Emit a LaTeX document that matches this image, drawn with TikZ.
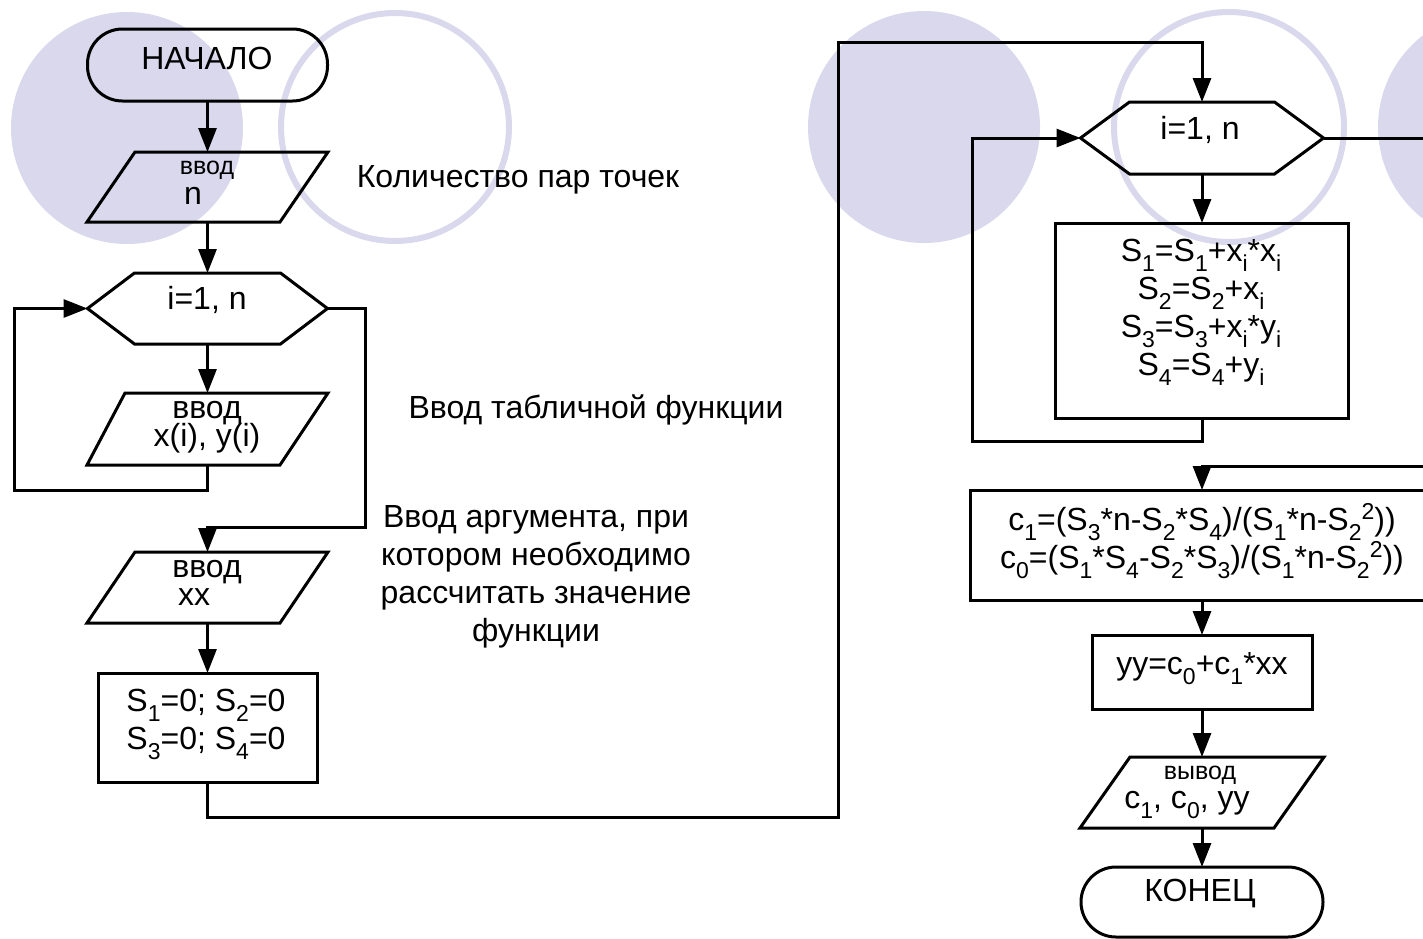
\documentclass[tikz,border=0pt]{standalone}
\usepackage{fontspec}
\setmainfont{Liberation Sans}
\usetikzlibrary{arrows.meta,calc}
\definecolor{lav}{RGB}{217,216,236}
% lowered / raised indices for the formulas
\newcommand{\sbs}[1]{\raisebox{-10pt}{\fontsize{23}{23}\selectfont #1}}
\newcommand{\sps}[1]{\raisebox{11pt}{\fontsize{23}{23}\selectfont #1}}
\newcommand{\tagfont}{\fontsize{25}{25}\selectfont}
\begin{document}
\begin{tikzpicture}[x=1pt,y=-1pt,
  font=\fontsize{32}{38}\selectfont,
  link/.style={line width=3pt},
  flow/.style={line width=3pt,-{Triangle[width=18pt,length=24pt]}},
  proc/.style={draw,line width=3pt,inner sep=0pt,outer sep=0pt},
  term/.style={proc,rounded corners=35pt},
  area/.style={inner sep=0pt,outer sep=0pt},
  lbl/.style={inner sep=0pt,align=center},
  deco/.style={lav,line width=6pt}]
\useasboundingbox (0,0) rectangle (1423,938);
\clip (0,0) rectangle (1423,938);

% background discs and rings
\fill[lav] (127,128) circle[radius=116];
\draw[deco] (395,127) circle[radius=114];
\fill[lav] (924,127) circle[radius=116];
\draw[deco] (1229,127) circle[radius=115];
\fill[lav] (1494,127) circle[radius=116];

% ---------- left column ----------
\node[term,minimum width=240pt,minimum height=72pt] (start) at (207.5,65) {};
\node[lbl] (t-start) at (207,58) {НАЧАЛО};

\node[area,minimum width=241pt,minimum height=70pt] (in1) at (207.5,187) {};
\draw[link] ($(in1.north west)+(48,0)$) -- (in1.north east) -- ($(in1.south east)+(-48,0)$) -- (in1.south west) -- cycle;
\node[lbl,font=\tagfont] (t-in1a) at (207,170) {ввод};
\node[lbl] (t-in1b) at (193,196) {n};

\node[area,minimum width=240pt,minimum height=71pt] (loop1) at (207.5,308.5) {};
\draw[link] (loop1.west) -- ($(loop1.north west)+(47,0)$) -- ($(loop1.north east)+(-47,0)$) -- (loop1.east) -- ($(loop1.south east)+(-47,0)$) -- ($(loop1.south west)+(47,0)$) -- cycle;
\node[lbl] (t-loop1) at (207,300) {i=1, n};

\node[area,minimum width=241pt,minimum height=72pt] (in2) at (207.5,429) {};
\draw[link] ($(in2.north west)+(38,0)$) -- (in2.north east) -- ($(in2.south east)+(-48,0)$) -- (in2.south west) -- cycle;
\node[lbl] (t-in2a) at (207,413) {ввод};
\node[lbl] (t-in2b) at (207,438) {x(i), y(i)};

\node[area,minimum width=241pt,minimum height=71pt] (in3) at (207.5,587.5) {};
\draw[link] ($(in3.north west)+(48,0)$) -- (in3.north east) -- ($(in3.south east)+(-48,0)$) -- (in3.south west) -- cycle;
\node[lbl] (t-in3a) at (207,572) {ввод};
\node[lbl] (t-in3b) at (194,597) {xx};

\node[proc,minimum width=219pt,minimum height=109pt] (init) at (207.5,727.5) {};
\node[lbl] (t-init) at (206,724) {S\sbs{1}=0; S\sbs{2}=0\\S\sbs{3}=0; S\sbs{4}=0};

% side notes
\node[lbl] (n1) at (518,180) {Количество пар точек};
\node[lbl] (n2) at (596,410) {Ввод табличной функции};
\node[lbl] (n3) at (536,577) {Ввод аргумента, при\\котором необходимо\\рассчитать значение\\функции};

% ---------- right column ----------
\node[area,minimum width=243pt,minimum height=72pt] (loop2) at (1202,138) {};
\draw[link] (loop2.west) -- ($(loop2.north west)+(49,0)$) -- ($(loop2.north east)+(-49,0)$) -- (loop2.east) -- ($(loop2.south east)+(-49,0)$) -- ($(loop2.south west)+(49,0)$) -- cycle;
\node[lbl] (t-loop2) at (1200,130) {i=1, n};

\node[proc,minimum width=293pt,minimum height=195pt] (acc) at (1202,320.5) {};
\node[lbl] (t-acc) at (1201,312) {S\sbs{1}=S\sbs{1}+x\sbs{i}*x\sbs{i}\\S\sbs{2}=S\sbs{2}+x\sbs{i}\\S\sbs{3}=S\sbs{3}+x\sbs{i}*y\sbs{i}\\S\sbs{4}=S\sbs{4}+y\sbs{i}};

\node[proc,minimum width=464pt,minimum height=110pt] (coef) at (1202,545) {};
\node[lbl] (t-coef) at (1202,541) {c\sbs{1}=(S\sbs{3}*n-S\sbs{2}*S\sbs{4})/(S\sbs{1}*n-S\sbs{2}\sps{2}))\\c\sbs{0}=(S\sbs{1}*S\sbs{4}-S\sbs{2}*S\sbs{3})/(S\sbs{1}*n-S\sbs{2}\sps{2}))};

\node[proc,minimum width=220pt,minimum height=74pt] (calc) at (1202,672) {};
\node[lbl] (t-calc) at (1202,669) {yy=c\sbs{0}+c\sbs{1}*xx};

\node[area,minimum width=244pt,minimum height=71pt] (out) at (1202,792.5) {};
\draw[link] ($(out.north west)+(50,0)$) -- (out.north east) -- ($(out.south east)+(-50,0)$) -- (out.south west) -- cycle;
\node[lbl,font=\tagfont] (t-out1) at (1200,775) {вывод};
\node[lbl] (t-out2) at (1187,805) {c\sbs{1}, c\sbs{0}, yy};

\node[term,minimum width=242pt,minimum height=70pt] (stop) at (1202,902) {};
\node[lbl] (t-stop) at (1200,893) {КОНЕЦ};

% ---------- connectors ----------
\coordinate (l1a) at (14,490);
\coordinate (le1) at (365,527);
\coordinate (j1) at (838,817);
\coordinate (j2) at (838,42);
\coordinate (l2a) at (972,441);
\coordinate (r1) at (1445,466);

\draw[flow] (start) -- (in1.north);
\draw[flow] (in1.south) -- (loop1.north);
\draw[flow] (loop1.south) -- (in2.north);
\draw[flow] (in2.south) |- (l1a) |- (loop1.west);
\draw[flow] (loop1.east) -| (le1) -| (in3.north);
\draw[flow] (in3.south) -- (init.north);
\draw[flow] (init.south) |- (j1) -- (j2) -| (loop2.north);
\draw[flow] (loop2.south) -- (acc.north);
\draw[flow] (acc.south) |- (l2a) |- (loop2.west);
\draw[flow] (loop2.east) -| (r1) -| (coef.north);
\draw[flow] (coef.south) -- (calc.north);
\draw[flow] (calc.south) -- (out.north);
\draw[flow] (out.south) -- (stop.north);
\end{tikzpicture}
\end{document}
